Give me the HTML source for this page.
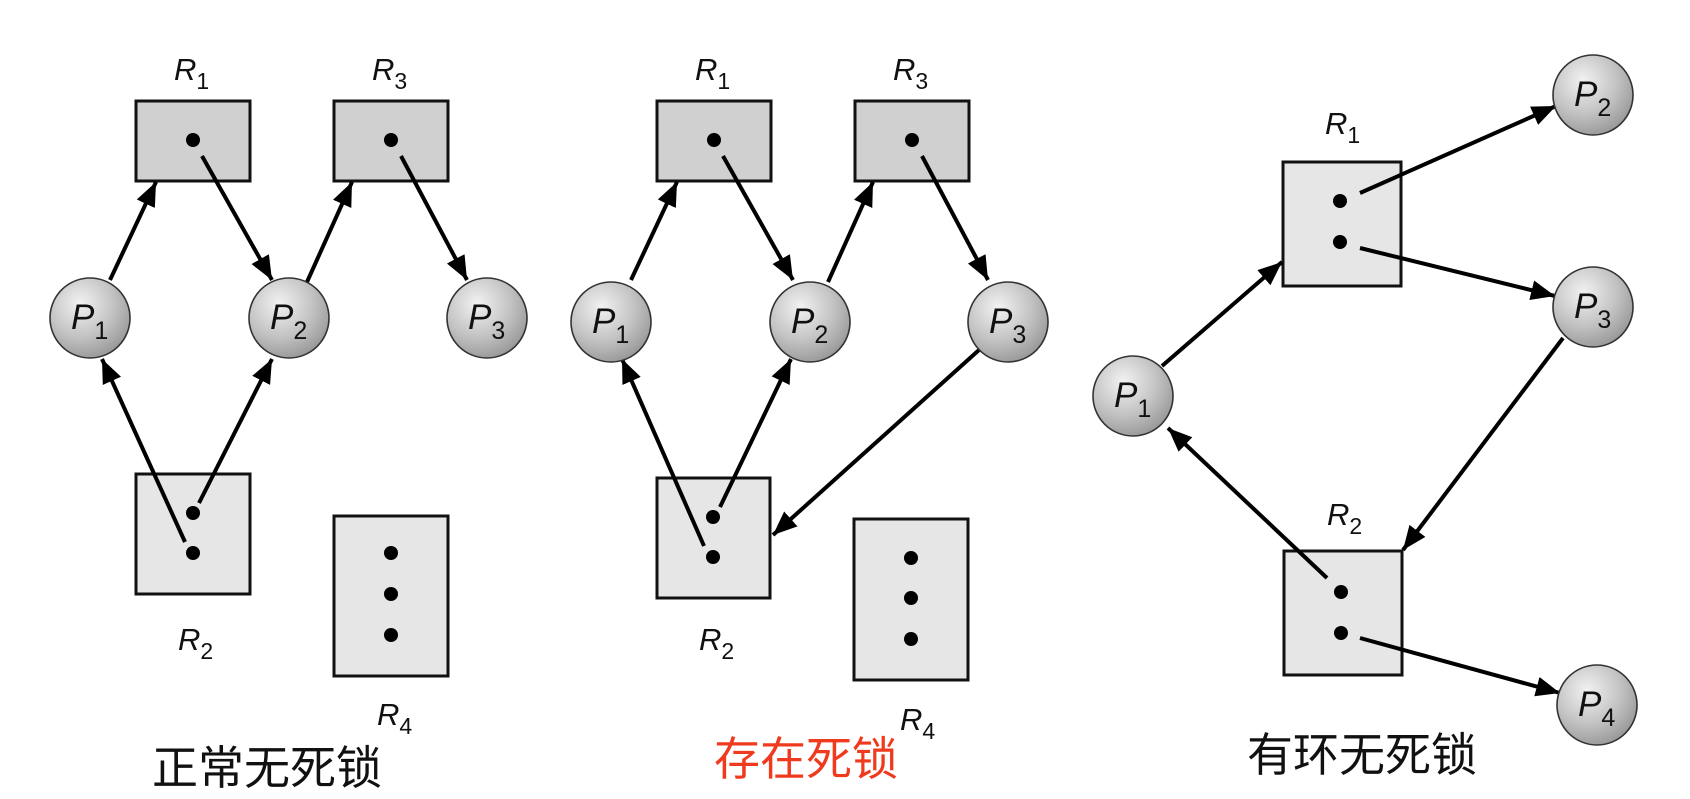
<!DOCTYPE html>
<html><head><meta charset="utf-8"><style>
html,body{margin:0;padding:0;background:#fff;width:1690px;height:799px;overflow:hidden}
text{font-family:"Liberation Sans",sans-serif;fill:#111}
.lab{font-style:italic;font-size:31px}
.sub{font-size:23px;font-style:normal}
.plab{font-style:italic;font-size:35px}
.psub{font-size:25px;font-style:normal}
.cap{font-family:"Liberation Sans","Noto Sans CJK SC",sans-serif;font-size:46px}
</style></head><body>
<svg width="1690" height="799" viewBox="0 0 1690 799" xmlns="http://www.w3.org/2000/svg">
<defs>
<radialGradient id="g" cx="0.38" cy="0.32" r="0.7">
<stop offset="0" stop-color="#f2f2f2"/><stop offset="0.6" stop-color="#c2c2c2"/><stop offset="1" stop-color="#9a9a9a"/>
</radialGradient>
<marker id="a" markerUnits="userSpaceOnUse" markerWidth="26" markerHeight="22" refX="24" refY="11" orient="auto">
<path d="M0,1 L24,11 L0,21 Z" fill="#000"/>
</marker>
<g id="P"><circle r="40" fill="url(#g)" stroke="#333" stroke-width="1.6"/></g>
</defs>
<g stroke="#111" stroke-width="3">
<rect x="136" y="101" width="114" height="80" fill="#d0d0d0"/>
<rect x="334" y="101" width="114" height="80" fill="#d0d0d0"/>
<rect x="136" y="474" width="114" height="120" fill="#e6e6e6"/>
<rect x="334" y="516" width="114" height="160" fill="#e6e6e6"/>
<rect x="657" y="101" width="114" height="80" fill="#d0d0d0"/>
<rect x="855" y="101" width="114" height="80" fill="#d0d0d0"/>
<rect x="657" y="478" width="113" height="120" fill="#e6e6e6"/>
<rect x="854" y="519" width="114" height="161" fill="#e6e6e6"/>
<rect x="1283" y="162" width="118" height="124" fill="#e6e6e6"/>
<rect x="1284" y="551" width="118" height="124" fill="#e6e6e6"/>
</g>
<g stroke="#000" stroke-width="4" fill="none">
<line x1="110" y1="280" x2="156" y2="182" marker-end="url(#a)"/>
<line x1="202" y1="156" x2="272" y2="280" marker-end="url(#a)"/>
<line x1="307" y1="282" x2="352" y2="182" marker-end="url(#a)"/>
<line x1="401" y1="156" x2="467" y2="280" marker-end="url(#a)"/>
<line x1="185" y1="542" x2="102" y2="359" marker-end="url(#a)"/>
<line x1="199" y1="503" x2="272" y2="359" marker-end="url(#a)"/>
<line x1="631" y1="280" x2="677" y2="182" marker-end="url(#a)"/>
<line x1="723" y1="156" x2="793" y2="280" marker-end="url(#a)"/>
<line x1="828" y1="282" x2="873" y2="182" marker-end="url(#a)"/>
<line x1="922" y1="156" x2="988" y2="280" marker-end="url(#a)"/>
<line x1="704" y1="546" x2="622" y2="359" marker-end="url(#a)"/>
<line x1="720" y1="507" x2="791" y2="359" marker-end="url(#a)"/>
<line x1="979" y1="350" x2="773" y2="535" marker-end="url(#a)"/>
<line x1="1360" y1="193" x2="1556" y2="106" marker-end="url(#a)"/>
<line x1="1360" y1="248" x2="1555" y2="296" marker-end="url(#a)"/>
<line x1="1162" y1="366" x2="1282" y2="262" marker-end="url(#a)"/>
<line x1="1563" y1="338" x2="1403" y2="550" marker-end="url(#a)"/>
<line x1="1327" y1="578" x2="1168" y2="428" marker-end="url(#a)"/>
<line x1="1360" y1="638" x2="1560" y2="693" marker-end="url(#a)"/>
</g>
<g fill="#000">
<circle cx="193" cy="140" r="7"/><circle cx="391" cy="140" r="7"/>
<circle cx="193" cy="513" r="7"/><circle cx="193" cy="553" r="7"/>
<circle cx="391" cy="553" r="7"/><circle cx="391" cy="594" r="7"/><circle cx="391" cy="635" r="7"/>
<circle cx="714" cy="140" r="7"/><circle cx="912" cy="140" r="7"/>
<circle cx="713" cy="517" r="7"/><circle cx="713" cy="557" r="7"/>
<circle cx="911" cy="558" r="7"/><circle cx="911" cy="598" r="7"/><circle cx="911" cy="639" r="7"/>
<circle cx="1340" cy="201" r="7"/><circle cx="1340" cy="242" r="7"/>
<circle cx="1341" cy="592" r="7"/><circle cx="1341" cy="633" r="7"/>
</g>
<use href="#P" x="90" y="318"/><use href="#P" x="289" y="318"/><use href="#P" x="487" y="318"/>
<use href="#P" x="611" y="322"/><use href="#P" x="810" y="322"/><use href="#P" x="1008" y="322"/>
<use href="#P" x="1593" y="95"/><use href="#P" x="1593" y="307"/><use href="#P" x="1133" y="396"/><use href="#P" x="1597" y="705"/>
<g class="plab">
<text x="71" y="329">P<tspan class="psub" dy="10">1</tspan></text>
<text x="270" y="329">P<tspan class="psub" dy="10">2</tspan></text>
<text x="468" y="329">P<tspan class="psub" dy="10">3</tspan></text>
<text x="592" y="333">P<tspan class="psub" dy="10">1</tspan></text>
<text x="791" y="333">P<tspan class="psub" dy="10">2</tspan></text>
<text x="989" y="333">P<tspan class="psub" dy="10">3</tspan></text>
<text x="1574" y="106">P<tspan class="psub" dy="10">2</tspan></text>
<text x="1574" y="318">P<tspan class="psub" dy="10">3</tspan></text>
<text x="1114" y="407">P<tspan class="psub" dy="10">1</tspan></text>
<text x="1578" y="716">P<tspan class="psub" dy="10">4</tspan></text>
</g>
<g class="lab">
<text x="174" y="80">R<tspan class="sub" dy="9">1</tspan></text>
<text x="372" y="80">R<tspan class="sub" dy="9">3</tspan></text>
<text x="178" y="650">R<tspan class="sub" dy="9">2</tspan></text>
<text x="377" y="725">R<tspan class="sub" dy="9">4</tspan></text>
<text x="695" y="80">R<tspan class="sub" dy="9">1</tspan></text>
<text x="893" y="80">R<tspan class="sub" dy="9">3</tspan></text>
<text x="699" y="650">R<tspan class="sub" dy="9">2</tspan></text>
<text x="900" y="730">R<tspan class="sub" dy="9">4</tspan></text>
<text x="1325" y="134">R<tspan class="sub" dy="9">1</tspan></text>
<text x="1327" y="525">R<tspan class="sub" dy="9">2</tspan></text>
</g>
<text class="cap" x="152" y="784">正常无死锁</text>
<text class="cap" x="714" y="775" style="fill:#f03a1e">存在死锁</text>
<text class="cap" x="1247" y="771">有环无死锁</text>
</svg>
</body></html>
